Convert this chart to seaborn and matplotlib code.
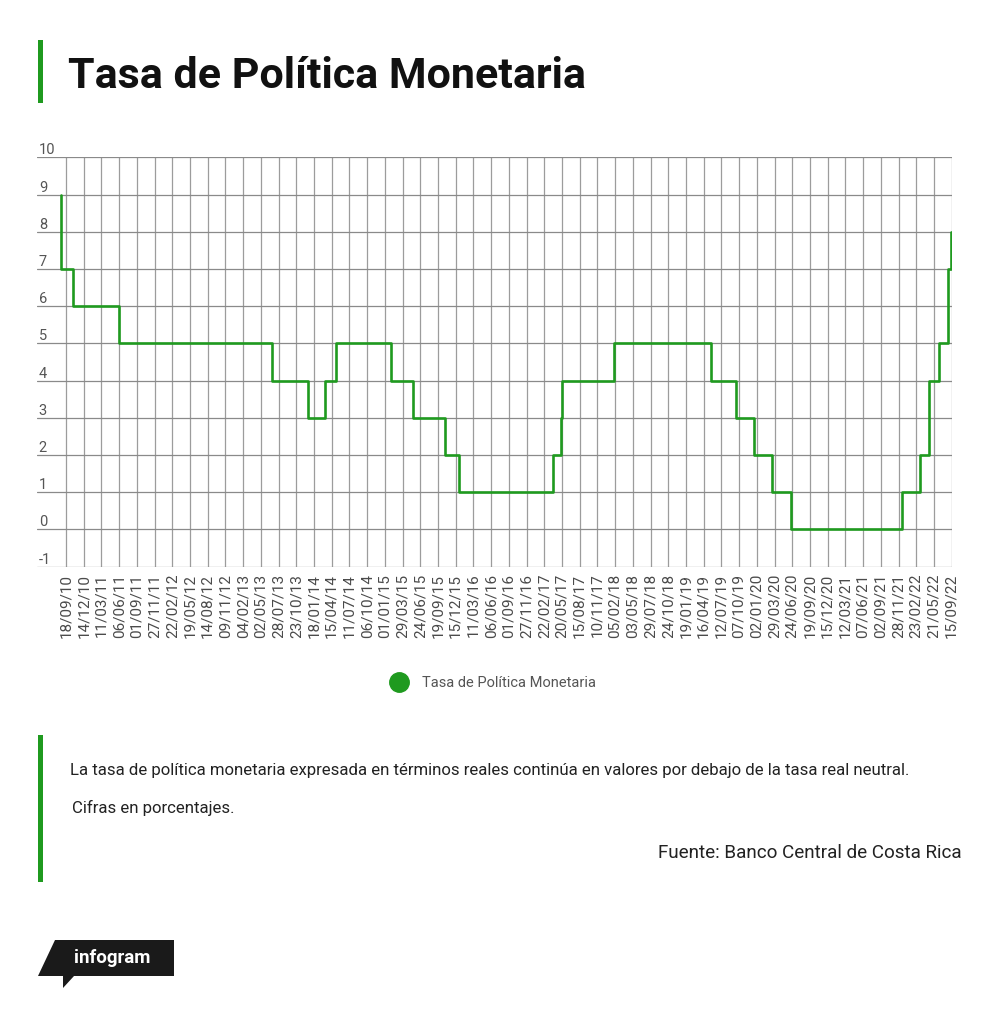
import numpy as np
import pandas as pd
import matplotlib
matplotlib.use('Agg')
import matplotlib.pyplot as plt
from matplotlib.lines import Line2D
from matplotlib.patches import Rectangle, Polygon
import seaborn as sns

# posicion en unidades de marca del eje x (0 = 18/09/10, 50 = 15/09/22)
change_pos = [-0.30, -0.30, 0.38, 3.01, 11.60, 13.68, 14.60, 15.25, 18.35, 19.61,
              21.38, 22.21, 27.48, 27.95, 28.02, 30.96, 36.42, 37.81, 38.85, 39.85,
              40.94, 47.19, 48.20, 48.71, 49.30, 49.81, 49.97, 50.00]
tpm = [9, 7, 6, 5, 4, 3, 4, 5, 4, 3,
       2, 1, 2, 3, 4, 5, 4, 3, 2, 1,
       0, 1, 2, 4, 5, 7, 8, 8]

tick_labels = ['18/09/10', '14/12/10', '11/03/11', '06/06/11', '01/09/11', '27/11/11',
               '22/02/12', '19/05/12', '14/08/12', '09/11/12', '04/02/13', '02/05/13',
               '28/07/13', '23/10/13', '18/01/14', '15/04/14', '11/07/14', '06/10/14',
               '01/01/15', '29/03/15', '24/06/15', '19/09/15', '15/12/15', '11/03/16',
               '06/06/16', '01/09/16', '27/11/16', '22/02/17', '20/05/17', '15/08/17',
               '10/11/17', '05/02/18', '03/05/18', '29/07/18', '24/10/18', '19/01/19',
               '16/04/19', '12/07/19', '07/10/19', '02/01/20', '29/03/20', '24/06/20',
               '19/09/20', '15/12/20', '12/03/21', '07/06/21', '02/09/21', '28/11/21',
               '23/02/22', '21/05/22', '15/09/22']
y_ticks = list(range(-1, 11))

GREEN = '#1f9a1f'
W, H = 1000, 1010

sns.set_style('white')
plt.rcParams['font.family'] = ['Roboto', 'DejaVu Sans']

df = pd.DataFrame({'pos': change_pos, 'tpm': tpm})

fig = plt.figure(figsize=(10, 10.1), dpi=100)
ax = fig.add_axes([37 / W, 1 - 566.7 / H, 915 / W, 409.4 / H])

sns.lineplot(data=df, x='pos', y='tpm', ax=ax, estimator=None, sort=False,
             drawstyle='steps-post', color=GREEN, linewidth=1.9, legend=False)

ax.set_xlim(-1.64, 50.02)
ax.set_ylim(-1, 10)
ax.set_xticks(range(len(tick_labels)))
ax.set_xticklabels(tick_labels, rotation=90, fontsize=11, color='#4a4a4a')
ax.set_yticks(y_ticks)
ax.set_yticklabels([])
ax.tick_params(axis='both', length=0)
ax.tick_params(axis='x', pad=5)
ax.set_xlabel('')
ax.set_ylabel('')
for s in ax.spines.values():
    s.set_visible(False)
ax.yaxis.grid(True, color='#8a8a8a', linewidth=0.9)
ax.xaxis.grid(True, color='#9c9c9c', linewidth=0.9)
ax.set_axisbelow(True)

# y labels sit on top of each gridline
for v in y_ticks:
    ax.text(0.002, v, str(v), transform=ax.get_yaxis_transform(), ha='left',
            va='bottom', fontsize=10.5, color='#555555')

# title
fig.add_artist(Rectangle((38 / W, 1 - 103 / H), 5 / W, 63 / H,
                         transform=fig.transFigure, color=GREEN, lw=0))
fig.text(68 / W, 1 - 76 / H, 'Tasa de Política Monetaria', fontsize=31,
         fontweight='bold', color='#111111', va='center', ha='left')

# legend
handle = Line2D([], [], marker='o', linestyle='none', markersize=14,
                markerfacecolor=GREEN, markeredgecolor=GREEN)
fig.legend([handle], ['Tasa de Política Monetaria'], loc='center',
           bbox_to_anchor=(490 / W, 1 - 683 / H), frameon=False, fontsize=10.5,
           labelcolor='#555555', handletextpad=0.55)

# notes
fig.add_artist(Rectangle((38 / W, 1 - 882 / H), 5 / W, 147 / H,
                         transform=fig.transFigure, color=GREEN, lw=0))
fig.text(70 / W, 1 - 770 / H,
         'La tasa de política monetaria expresada en términos reales continúa en valores por debajo de la tasa real neutral.',
         fontsize=12.1, color='#222222', va='center', ha='left')
fig.text(72 / W, 1 - 808 / H, 'Cifras en porcentajes.', fontsize=12.1,
         color='#222222', va='center', ha='left')
fig.text(962 / W, 1 - 853 / H, 'Fuente: Banco Central de Costa Rica', fontsize=13.6,
         color='#222222', va='center', ha='right')

# infogram badge
pts = [(55, 940), (174, 940), (174, 976), (74, 976), (63, 988), (63, 976), (38, 976)]
fig.add_artist(Polygon([(x / W, 1 - y / H) for x, y in pts], closed=True,
                       transform=fig.transFigure, color='#1a1a1a', lw=0))
fig.text(112 / W, 1 - 958 / H, 'infogram', fontsize=13.5, fontweight='bold',
         color='white', va='center', ha='center')

fig.savefig('out.png', dpi=100, facecolor='white')
